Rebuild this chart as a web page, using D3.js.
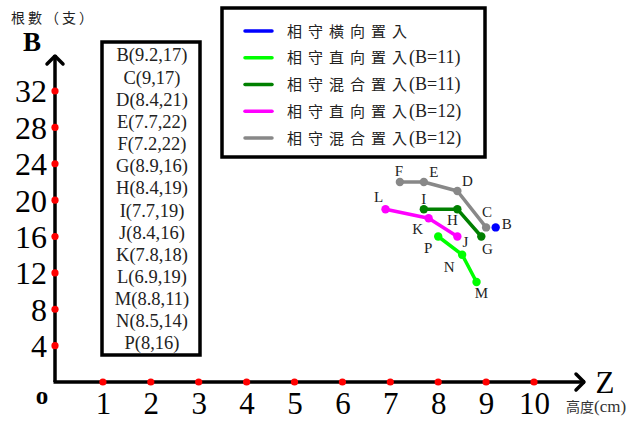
<!DOCTYPE html>
<html><head><meta charset="utf-8">
<script src="https://cdn.jsdelivr.net/npm/d3@7"></script>
<style>body{margin:0;background:#fff}svg{display:block}</style>
</head><body>
<script>
const xTicks = [1,2,3,4,5,6,7,8,9,10];
const yTicks = [4,8,12,16,20,24,28,32];
const seriesNames = ["相守橫向置入","相守直向置入","相守混合置入","相守直向置入","相守混合置入"];
const seriesSuffix = ["","(B=11)","(B=11)","(B=12)","(B=12)"];
const seriesColors = ["#0000ff","#00ff00","#008000","#ff00ff","#888888"];
const seriesBlue = [{n:"B",x:9.2,y:17}];
const seriesLime = [{n:"P",x:8,y:16},{n:"N",x:8.5,y:14},{n:"M",x:8.8,y:11}];
const seriesGreen = [{n:"I",x:7.7,y:19},{n:"H",x:8.4,y:19},{n:"G",x:8.9,y:16}];
const seriesMagenta = [{n:"L",x:6.9,y:19},{n:"K",x:7.8,y:18},{n:"J",x:8.4,y:16}];
const seriesGray = [{n:"F",x:7.2,y:22},{n:"E",x:7.7,y:22},{n:"D",x:8.4,y:21},{n:"C",x:9,y:17}];
const pointList = ["B(9.2,17)","C(9,17)","D(8.4,21)","E(7.7,22)","F(7.2,22)","G(8.9,16)","H(8.4,19)","I(7.7,19)","J(8.4,16)","K(7.8,18)","L(6.9,19)","M(8.8,11)","N(8.5,14)","P(8,16)"];

const allSeries = [seriesBlue, seriesLime, seriesGreen, seriesMagenta, seriesGray];
// label offsets (layout only)
const labelOff = {F:[-1,-11],E:[10,-10],D:[10,-10],C:[1,-16],B:[11,-4],G:[6,12],H:[-5,11],I:[0,-10],J:[8,5],K:[-11,10],L:[-7,-12],P:[-10,11],N:[-13,12],M:[5,11]};

const W=642,H=421;
const svg=d3.select("body").append("svg").attr("width",W).attr("height",H);
const x=d3.scaleLinear().domain([0,10]).range([55,534]);
const y=d3.scaleLinear().domain([0,32]).range([382,91]);
const serif="'Liberation Serif','Times New Roman',serif";
const cjk="'Noto Sans CJK TC','Noto Sans CJK SC',sans-serif";

// axes lines
svg.append("line").attr("x1",x(0)).attr("y1",y(0)).attr("x2",x(0)).attr("y2",55).attr("stroke","#000").attr("stroke-width",3.5);
svg.append("line").attr("x1",x(0)-1.5).attr("y1",y(0)).attr("x2",585).attr("y2",y(0)).attr("stroke","#000").attr("stroke-width",3.5);
svg.append("path").attr("d",`M${x(0)-8},64 L${x(0)},56 L${x(0)+8},64`).attr("fill","none").attr("stroke","#000").attr("stroke-width",3.5).attr("stroke-linecap","round").attr("stroke-linejoin","round");
svg.append("path").attr("d",`M576,374 L584,382 L576,390`).attr("fill","none").attr("stroke","#000").attr("stroke-width",3.5).attr("stroke-linecap","round").attr("stroke-linejoin","round");

// tick labels via d3 axes
const gx=svg.append("g").attr("transform",`translate(0,${y(0)})`)
  .call(d3.axisBottom(x).tickValues(xTicks).tickSize(0).tickPadding(32).tickFormat(d3.format("d")));
gx.select(".domain").remove();
gx.selectAll("text").attr("font-family",serif).attr("font-size",31).attr("fill","#000").attr("dy",0);
const gy=svg.append("g").attr("transform",`translate(${x(0)},0)`)
  .call(d3.axisLeft(y).tickValues(yTicks).tickSize(0).tickPadding(8).tickFormat(d3.format("d")));
gy.select(".domain").remove();
gy.selectAll("text").attr("font-family",serif).attr("font-size",32).attr("fill","#000").attr("dy","0.34em");

// red tick dots
svg.selectAll(".xd").data(xTicks).enter().append("circle").attr("cx",d=>x(d)).attr("cy",y(0)).attr("r",3.6).attr("fill","#ff0000");
svg.selectAll(".yd").data(yTicks).enter().append("circle").attr("cx",x(0)).attr("cy",d=>y(d)).attr("r",3.6).attr("fill","#ff0000");

// axis titles
svg.append("text").attr("x",42).attr("y",404).attr("text-anchor","middle").attr("font-family",serif).attr("font-weight","bold").attr("font-size",25).text("o");
svg.append("text").attr("x",32).attr("y",51).attr("text-anchor","middle").attr("font-family",serif).attr("font-weight","bold").attr("font-size",27).text("B");
svg.append("text").attr("x",11).attr("y",23).attr("font-family",cjk).attr("font-size",14).attr("letter-spacing",3).attr("fill","#222").text("根數（支）");
svg.append("text").attr("x",605).attr("y",393).attr("text-anchor","middle").attr("font-family",serif).attr("font-size",31).text("Z");
const zt=svg.append("text").attr("x",566).attr("y",412).attr("fill","#333");
zt.append("tspan").attr("font-family",cjk).attr("font-size",14).text("高度");
zt.append("tspan").attr("font-family",serif).attr("font-size",17).text("(cm)");

// list box
svg.append("rect").attr("x",102).attr("y",42).attr("width",98).attr("height",313).attr("fill","#fff").attr("stroke","#000").attr("stroke-width",3.5);
const listY=d3.scalePoint().domain(pointList).range([55,343]);
svg.selectAll(".lt").data(pointList).enter().append("text").attr("x",152).attr("y",d=>listY(d)).attr("dy","0.35em")
  .attr("text-anchor","middle").attr("font-family",serif).attr("font-size",18.5).attr("fill","#222").text(d=>d);

// legend
svg.append("rect").attr("x",222).attr("y",8).attr("width",263).attr("height",149).attr("fill","#fff").attr("stroke","#000").attr("stroke-width",3.5);
const legY=d3.scalePoint().domain(d3.range(5)).range([31,138]);
const lg=svg.selectAll(".lg").data(d3.range(5)).enter().append("g").attr("transform",i=>`translate(0,${legY(i)})`);
lg.append("line").attr("x1",245).attr("x2",272).attr("y1",0).attr("y2",0).attr("stroke",i=>seriesColors[i]).attr("stroke-width",3.5).attr("stroke-linecap","round");
const lt=lg.append("text").attr("x",287).attr("y",0).attr("dy","0.35em").attr("fill","#222");
lt.append("tspan").attr("font-family",cjk).attr("font-size",15).attr("letter-spacing",6).text(i=>seriesNames[i]);
lt.append("tspan").attr("font-family",serif).attr("font-size",18).attr("letter-spacing",0).attr("dx",-4).text(i=>seriesSuffix[i]);

// series
const line=d3.line().x(d=>x(d.x)).y(d=>y(d.y));
allSeries.forEach((s,i)=>{
  svg.append("path").datum(s).attr("d",line).attr("fill","none").attr("stroke",seriesColors[i]).attr("stroke-width",3.5).attr("stroke-linejoin","round");
  svg.selectAll(null).data(s).enter().append("circle").attr("cx",d=>x(d.x)).attr("cy",d=>y(d.y)).attr("r",4.2).attr("fill",seriesColors[i]);
  svg.selectAll(null).data(s).enter().append("text")
    .attr("x",d=>x(d.x)+labelOff[d.n][0]).attr("y",d=>y(d.y)+labelOff[d.n][1]).attr("dy","0.35em")
    .attr("text-anchor","middle").attr("font-family",serif).attr("font-size",15).attr("fill","#222").text(d=>d.n);
});
</script>
</body></html>
